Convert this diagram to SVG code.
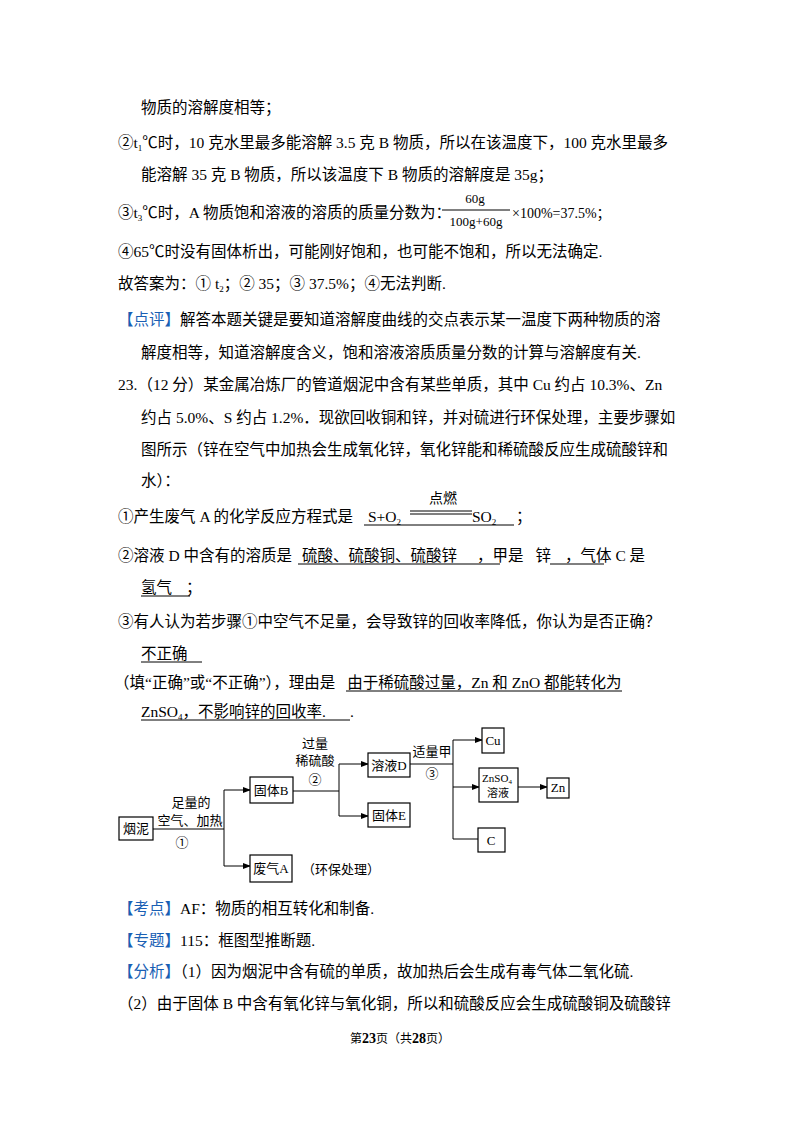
<svg xmlns="http://www.w3.org/2000/svg" width="800" height="1132" viewBox="0 0 800 1132">
<style>
text{font-family:"Liberation Serif","Noto Sans CJK SC",serif;font-size:15.5px;fill:#000}
.d{font-size:13px}
.s11{font-size:11px}
.s13{font-size:13px}
.s14{font-size:14px}
.s12{font-size:12px}
.b{fill:#1a5fb4}
.bx{fill:#fff;stroke:#000;stroke-width:1.2}
.ln{stroke:#000;stroke-width:1;fill:none}
.u{stroke:#000;stroke-width:1}
</style>
<defs><marker id="a" markerWidth="8" markerHeight="8" refX="7" refY="4" orient="auto" markerUnits="userSpaceOnUse"><path d="M0,1 L8,4 L0,7 Z" fill="#000"/></marker></defs>
<rect width="800" height="1132" fill="#fff"/>
<text x="141" y="113">物质的溶解度相等；</text>
<text x="118" y="148">②t<tspan font-size="9" dy="3">1</tspan><tspan dy="-3">℃时，10 克水里最多能溶解 3.5 克 B 物质，所以在该温度下，100 克水里最多</tspan></text>
<text x="141" y="180">能溶解 35 克 B 物质，所以该温度下 B 物质的溶解度是 35g；</text>
<text x="118" y="218">③t<tspan font-size="9" dy="3">3</tspan><tspan dy="-3">℃时，A 物质饱和溶液的溶质的质量分数为：</tspan></text>
<text x="475" y="203" class="s13" text-anchor="middle">60g</text>
<line class="u" x1="442" y1="210" x2="510" y2="210"/>
<text x="476" y="226" class="s13" text-anchor="middle">100g+60g</text>
<text x="512" y="218" class="s14">×100%=37.5%；</text>
<text x="118" y="257">④65℃时没有固体析出，可能刚好饱和，也可能不饱和，所以无法确定.</text>
<text x="118" y="289">故答案为：① t<tspan font-size="9" dy="3">2</tspan><tspan dy="-3">；② 35；③ 37.5%；④无法判断.</tspan></text>
<text x="118" y="325"><tspan class="b">【点评】</tspan>解答本题关键是要知道溶解度曲线的交点表示某一温度下两种物质的溶</text>
<text x="141" y="358">解度相等，知道溶解度含义，饱和溶液溶质质量分数的计算与溶解度有关.</text>
<text x="118" y="390">23.（12 分）某金属冶炼厂的管道烟泥中含有某些单质，其中 Cu 约占 10.3%、Zn</text>
<text x="141" y="423">约占 5.0%、S 约占 1.2%．现欲回收铜和锌，并对硫进行环保处理，主要步骤如</text>
<text x="141" y="455">图所示（锌在空气中加热会生成氧化锌，氧化锌能和稀硫酸反应生成硫酸锌和</text>
<text x="141" y="486">水）：</text>
<text x="118" y="522">①产生废气 A 的化学反应方程式是</text>
<text x="368" y="522">S+O<tspan font-size="9" dy="3">2</tspan></text>
<text x="472" y="522">SO<tspan font-size="9" dy="3">2</tspan></text>
<text x="516" y="522">；</text>
<text x="443" y="503" class="s14" text-anchor="middle">点燃</text>
<line class="u" x1="410" y1="511" x2="472" y2="511"/><line class="u" x1="410" y1="514" x2="472" y2="514"/>
<line class="u" x1="364" y1="525" x2="514" y2="525"/>
<text x="118" y="561">②溶液 D 中含有的溶质是<tspan dx="10">硫酸、硫酸铜、硫酸锌</tspan><tspan dx="20">，甲是</tspan><tspan dx="12">锌</tspan><tspan dx="14">，气体 C 是</tspan></text>
<line class="u" x1="298" y1="564" x2="500" y2="564"/>
<line class="u" x1="550" y1="564" x2="604" y2="564"/>
<text x="141" y="593">氢气<tspan dx="14">；</tspan></text>
<line class="u" x1="141" y1="596" x2="190" y2="596"/>
<text x="118" y="627">③有人认为若步骤①中空气不足量，会导致锌的回收率降低，你认为是否正确？</text>
<text x="141" y="659">不正确</text>
<line class="u" x1="141" y1="662" x2="202" y2="662"/>
<text x="114" y="688">（填“正确”或“不正确”），理由是<tspan dx="12">由于稀硫酸过量，Zn 和 ZnO 都能转化为</tspan></text>
<line class="u" x1="346" y1="691" x2="622" y2="691"/>
<text x="141" y="717">ZnSO<tspan font-size="9" dy="3">4</tspan><tspan dy="-3">，不影响锌的回收率.</tspan><tspan dx="24">.</tspan></text>
<line class="u" x1="141" y1="720" x2="350" y2="720"/>
<g id="connectors" class="ln">
<line x1="153" y1="829" x2="224" y2="829"/>
<line x1="224" y1="790" x2="224" y2="866"/>
<line x1="224" y1="790" x2="250" y2="790" marker-end="url(#a)"/>
<line x1="224" y1="866" x2="250" y2="866" marker-end="url(#a)"/>
<line x1="293" y1="791" x2="339" y2="791"/>
<line x1="339" y1="764" x2="339" y2="816"/>
<line x1="339" y1="764" x2="368" y2="764" marker-end="url(#a)"/>
<line x1="339" y1="816" x2="368" y2="816" marker-end="url(#a)"/>
<line x1="410" y1="764" x2="453" y2="764"/>
<line x1="453" y1="740" x2="453" y2="839"/>
<line x1="453" y1="740" x2="482" y2="740" marker-end="url(#a)"/>
<line x1="453" y1="787" x2="479" y2="787" marker-end="url(#a)"/>
<line x1="453" y1="839" x2="478" y2="839"/>
<line x1="518" y1="787" x2="547" y2="787" marker-end="url(#a)"/>
</g>
<g>
<text x="191" y="807" text-anchor="middle" class="d">足量的</text>
<text x="190" y="825" text-anchor="middle" class="d">空气、加热</text>
<text x="182" y="847" text-anchor="middle" class="d">①</text>
<text x="315" y="748" text-anchor="middle" class="d">过量</text>
<text x="315" y="765" text-anchor="middle" class="d">稀硫酸</text>
<text x="315" y="784" text-anchor="middle" class="d">②</text>
<text x="432" y="756" text-anchor="middle" class="d">适量甲</text>
<text x="432" y="778" text-anchor="middle" class="d">③</text>
<text x="302" y="874" class="d">（环保处理）</text>
</g>
<g id="n1"><rect class="bx" x="119" y="817" width="34" height="23"/><text class="d" x="136" y="833" text-anchor="middle">烟泥</text></g>
<g id="n2"><rect class="bx" x="250" y="777" width="43" height="26"/><text class="d" x="271" y="795" text-anchor="middle">固体B</text></g>
<g id="n3"><rect class="bx" x="250" y="855" width="42" height="27"/><text class="d" x="271" y="873" text-anchor="middle">废气A</text></g>
<g id="n4"><rect class="bx" x="368" y="753" width="42" height="24"/><text class="d" x="389" y="770" text-anchor="middle">溶液D</text></g>
<g id="n5"><rect class="bx" x="368" y="803" width="42" height="24"/><text class="d" x="389" y="820" text-anchor="middle">固体E</text></g>
<g id="n6"><rect class="bx" x="482" y="728" width="22" height="25"/><text class="d" x="493" y="745" text-anchor="middle">Cu</text></g>
<g id="n7"><rect class="bx" x="479" y="768" width="39" height="34"/><text x="497" y="782" text-anchor="middle" class="s11">ZnSO<tspan font-size="7" dy="2">4</tspan></text><text x="498" y="797" text-anchor="middle" class="s11">溶液</text></g>
<g id="n8"><rect class="bx" x="478" y="828" width="27" height="24"/><text class="d" x="491" y="845" text-anchor="middle">C</text></g>
<g id="n9"><rect class="bx" x="547" y="778" width="22" height="20"/><text class="d" x="558" y="792" text-anchor="middle">Zn</text></g>
<text x="118" y="914"><tspan class="b">【考点】</tspan>AF：物质的相互转化和制备.</text>
<text x="118" y="946"><tspan class="b">【专题】</tspan>115：框图型推断题.</text>
<text x="118" y="977"><tspan class="b">【分析】</tspan>（1）因为烟泥中含有硫的单质，故加热后会生成有毒气体二氧化硫.</text>
<text x="118" y="1009">（2）由于固体 B 中含有氧化锌与氧化铜，所以和硫酸反应会生成硫酸铜及硫酸锌</text>
<text x="400" y="1043" text-anchor="middle" class="s12">第<tspan font-weight="bold" font-size="14">23</tspan>页（共<tspan font-weight="bold" font-size="14">28</tspan>页）</text>
</svg>
